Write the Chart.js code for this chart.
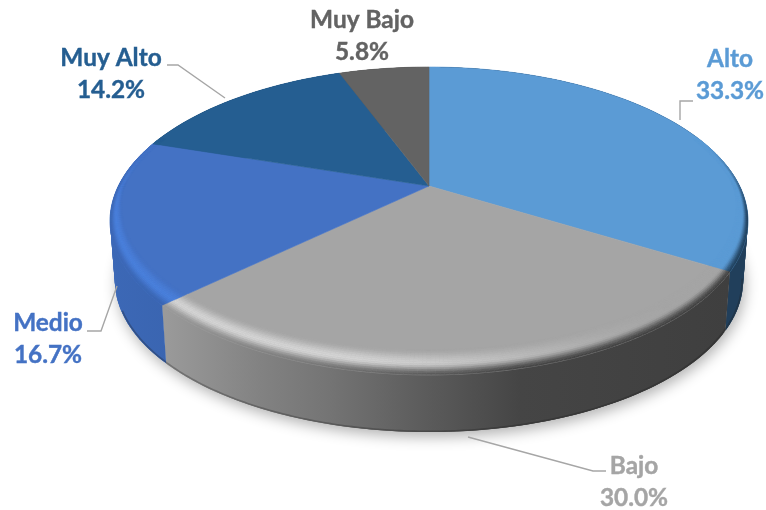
<!DOCTYPE html>
<html>
<head>
<meta charset="utf-8">
<style>
  html, body { margin: 0; padding: 0; background: #fff; }
  #wrap { width: 766px; height: 510px; }
</style>
<script src="https://cdn.jsdelivr.net/npm/chart.js@4"></script>
</head>
<body>
<div id="wrap"><canvas id="pie" width="766" height="510"></canvas></div>
<script>
// Chart data
const categories = ['Alto', 'Bajo', 'Medio', 'Muy Alto', 'Muy Bajo'];
const shares = [33.3, 30.0, 16.7, 14.2, 5.8];

// Slice colours
const topColors = ['#5b9bd5', '#a5a5a5', '#4472c4', '#255e91', '#636363'];
const glowColors = ['#5b9bd5', '#d4d4d4', '#4a80dc', '#255e91', '#636363'];
const sideStops = [
  [[600, '#213f5b'], [760, '#213f5b']],
  [[165, '#9a9a9a'], [260, '#828282'], [330, '#747474'], [415, '#5e5e5e'], [520, '#454545'], [730, '#3f3f3f']],
  [[110, '#3c68b6'], [170, '#3a65b1']],
  [[100, '#1c466d'], [760, '#1c466d']],
  [[100, '#4a4a4a'], [760, '#4a4a4a']]
];

// Label placement: text centre and leader line
const labelSpots = [
  { x: 730, y: 59, line: [[680, 120], [680, 101], [693, 101]] },
  { x: 634, y: 466, line: [[468, 437], [593, 471], [606, 471]] },
  { x: 48, y: 323, line: [[117, 286], [101, 331], [87, 331]] },
  { x: 111, y: 58, line: [[167, 65], [178, 65], [225, 98]] },
  { x: 362, y: 20, line: null }
];

// Tilted disc seen in perspective
const disc = { cx: 429, cy: 186, a: 310.6, b: 146, k: 0.227, drop: 60, shrink: 0.985, warp: 0.035 };

function project(r, angle, lower) {
  const bent = angle + disc.warp * Math.cos(angle) * (0.3 + Math.sin(angle));
  const u = r * Math.cos(bent);
  const v = r * Math.sin(bent);
  const w = 1 - disc.k * v;
  const s = lower ? disc.shrink : 1;
  return [disc.cx + s * disc.a * u / w, disc.cy + (lower ? disc.drop : 0) + s * disc.b * v / w];
}

function hexToRgb(hex) {
  return [1, 3, 5].map(i => parseInt(hex.slice(i, i + 2), 16));
}

function mix(c1, c2, t) {
  return c1.map((c, i) => c + (c2[i] - c) * t);
}

function smooth(a, b, x) {
  const t = Math.min(1, Math.max(0, (x - a) / (b - a)));
  return t * t * (3 - 2 * t);
}

function sideColorAt(stops, x) {
  if (x <= stops[0][0]) return hexToRgb(stops[0][1]);
  for (let i = 1; i < stops.length; i++) {
    if (x <= stops[i][0]) {
      const t = (x - stops[i - 1][0]) / (stops[i][0] - stops[i - 1][0]);
      return mix(hexToRgb(stops[i - 1][1]), hexToRgb(stops[i][1]), t);
    }
  }
  return hexToRgb(stops[stops.length - 1][1]);
}

function tracePoints(ctx, pts) {
  ctx.beginPath();
  pts.forEach((p, i) => i ? ctx.lineTo(p[0], p[1]) : ctx.moveTo(p[0], p[1]));
  ctx.closePath();
}

function arcPoints(r, a0, a1, lower) {
  const pts = [];
  const n = Math.max(2, Math.ceil((a1 - a0) / 0.01));
  for (let i = 0; i <= n; i++) pts.push(project(r, a0 + (a1 - a0) * i / n, lower));
  return pts;
}

function drawShadow(ctx) {
  ctx.save();
  ctx.shadowColor = 'rgba(0,0,0,0.3)';
  ctx.shadowBlur = 14;
  ctx.shadowOffsetX = 2;
  ctx.shadowOffsetY = 5;
  ctx.fillStyle = '#fff';
  tracePoints(ctx, arcPoints(1, 0, Math.PI * 2, true));
  ctx.fill();
  ctx.restore();
}

// Side of the disc, swept in overlapping strips so no seams show
// and the outline stays closed at the widest points
function drawWall(ctx, arc, i) {
  const grad = ctx.createLinearGradient(100, 0, 760, 0);
  sideStops[i].forEach(s => grad.addColorStop((s[0] - 100) / 660, s[1]));
  const upper = arcPoints(1, arc.startAngle, arc.endAngle, false);
  const lower = arcPoints(1, arc.startAngle, arc.endAngle, true);
  ctx.fillStyle = grad;
  for (let j = 0; j < upper.length - 1; j++) {
    const next = Math.min(j + 3, upper.length - 1);
    tracePoints(ctx, [upper[j], upper[next], lower[next], lower[j]]);
    ctx.fill();
  }
}

// Thin dark line where the side meets the ground
function drawFoot(ctx, arc) {
  const a0 = Math.max(arc.startAngle, 0.2);
  const a1 = Math.min(arc.endAngle, Math.PI - 0.4);
  if (a1 <= a0) return;
  ctx.beginPath();
  arcPoints(0.997, a0, a1, true).forEach((p, i) => i ? ctx.lineTo(p[0], p[1]) : ctx.moveTo(p[0], p[1]));
  ctx.strokeStyle = 'rgba(30,30,30,0.3)';
  ctx.lineWidth = 1.6;
  ctx.stroke();
}

function drawFace(ctx, arc, i) {
  const pts = [[disc.cx, disc.cy]].concat(arcPoints(1, arc.startAngle, arc.endAngle, false));
  tracePoints(ctx, pts);
  ctx.fillStyle = topColors[i];
  ctx.strokeStyle = topColors[i];
  ctx.lineWidth = 0.6;
  ctx.fill();
  ctx.stroke();
}

// Rounded edge along the rim of the disc
function drawBevel(ctx, arc, i) {
  const base = hexToRgb(topColors[i]);
  const glow = hexToRgb(glowColors[i]);
  const stepA = 0.012;
  const rings = 14;
  for (let a = arc.startAngle; a < arc.endAngle; a += stepA) {
    const mid = a + stepA / 2;
    const v = Math.sin(mid);
    const weight = smooth(-0.35, 0.25, v);
    if (weight <= 0) continue;
    const a1 = Math.min(a + stepA, arc.endAngle);
    const band = 0.022 + 0.085 * Math.max(0, v);
    const lit = smooth(0.75, -0.3, Math.cos(mid));
    const edge = sideColorAt(sideStops[i], project(1, mid, false)[0]);
    const crest = mix(base, glow, lit);
    for (let j = 0; j < rings; j++) {
      const t = (j + 0.5) / rings;
      let col;
      if (t < 0.55) col = mix(base, crest, smooth(0, 0.55, t));
      else col = mix(crest, edge, smooth(0.55, 1, t));
      col = mix(base, col, weight);
      const r0 = 1 - band * (1 - j / rings);
      const r1 = 1 - band * (1 - (j + 1) / rings);
      tracePoints(ctx, [project(r0, a, false), project(r0, a1, false), project(r1, a1, false), project(r1, a, false)]);
      const css = 'rgb(' + col.map(Math.round).join(',') + ')';
      ctx.fillStyle = css;
      ctx.strokeStyle = css;
      ctx.lineWidth = 0.4;
      ctx.fill();
      ctx.stroke();
    }
  }
}

const tiltedPie = {
  id: 'tiltedPie',
  beforeDatasetDraw(chart) {
    const ctx = chart.ctx;
    const arcs = chart.getDatasetMeta(0).data;
    drawShadow(ctx);
    arcs.forEach((arc, i) => drawWall(ctx, arc, i));
    arcs.forEach(arc => drawFoot(ctx, arc));
    arcs.forEach((arc, i) => drawFace(ctx, arc, i));
    arcs.forEach((arc, i) => drawBevel(ctx, arc, i));
    return false;
  },
  afterDatasetsDraw(chart) {
    const ctx = chart.ctx;
    ctx.save();
    ctx.strokeStyle = '#a6a6a6';
    ctx.lineWidth = 1.4;
    labelSpots.forEach(spot => {
      if (!spot.line) return;
      ctx.beginPath();
      spot.line.forEach((p, i) => i ? ctx.lineTo(p[0], p[1]) : ctx.moveTo(p[0], p[1]));
      ctx.stroke();
    });
    ctx.font = 'bold 24.4px Lato, "Noto Sans", sans-serif';
    ctx.textAlign = 'center';
    ctx.textBaseline = 'middle';
    ctx.lineWidth = 0.4;
    categories.forEach((name, i) => {
      ctx.fillStyle = topColors[i];
      ctx.strokeStyle = topColors[i];
      const pct = shares[i].toFixed(1) + '%';
      ctx.fillText(name, labelSpots[i].x, labelSpots[i].y);
      ctx.strokeText(name, labelSpots[i].x, labelSpots[i].y);
      ctx.fillText(pct, labelSpots[i].x, labelSpots[i].y + 32);
      ctx.strokeText(pct, labelSpots[i].x, labelSpots[i].y + 32);
    });
    ctx.restore();
  }
};

new Chart(document.getElementById('pie'), {
  type: 'pie',
  data: {
    labels: categories,
    datasets: [{ data: shares, backgroundColor: topColors, borderWidth: 0 }]
  },
  options: {
    responsive: false,
    animation: false,
    plugins: { legend: { display: false }, tooltip: { enabled: false } }
  },
  plugins: [tiltedPie]
});
</script>
</body>
</html>
